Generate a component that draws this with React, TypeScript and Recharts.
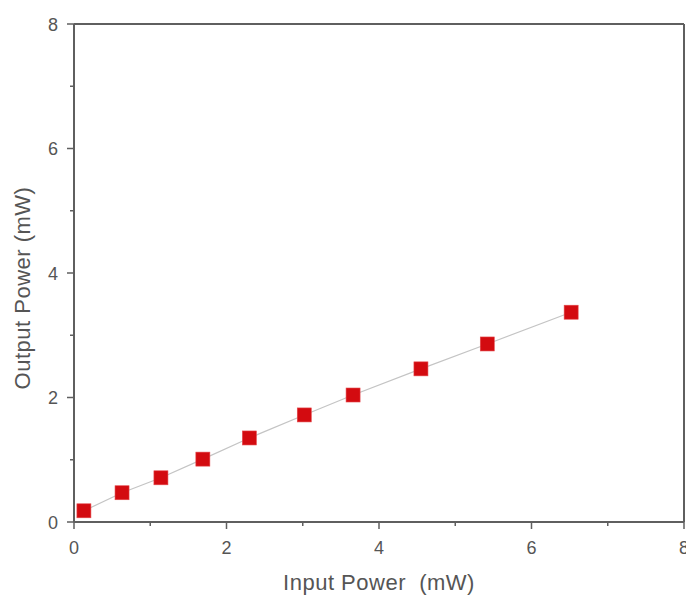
import { ComposedChart, Line, XAxis, YAxis, Label, ReferenceLine } from "recharts";

const inputPower = [0.13, 0.63, 1.14, 1.69, 2.3, 3.02, 3.66, 4.55, 5.42, 6.52];
const outputPower = [0.18, 0.47, 0.71, 1.01, 1.35, 1.72, 2.04, 2.46, 2.86, 3.37];
const axisTicks = [0, 1, 2, 3, 4, 5, 6, 7, 8];
const axisMax = 8;

const data = inputPower.map((x, i) => ({ x, y: outputPower[i] }));

const AXIS = "#5f5f5f";
const TEXT = "#555";
const FONT = "Arial, 'Liberation Sans', sans-serif";

function XTick(props: any) {
  const { x, y, payload } = props;
  const major = payload.value % 2 === 0;
  return (
    <g>
      <line x1={x} y1={y} x2={x} y2={y + (major ? 7 : 4)} stroke={AXIS} strokeWidth={1.5} />
      {major && (
        <text x={x} y={y + 32} textAnchor="middle" fill={TEXT} fontSize={18} fontFamily={FONT}>
          {payload.value}
        </text>
      )}
    </g>
  );
}

function YTick(props: any) {
  const { x, y, payload } = props;
  const major = payload.value % 2 === 0;
  return (
    <g>
      <line x1={x} y1={y} x2={x - (major ? 7 : 4)} y2={y} stroke={AXIS} strokeWidth={1.5} />
      {major && (
        <text x={x - 16} y={y + 6.5} textAnchor="end" fill={TEXT} fontSize={18} fontFamily={FONT}>
          {payload.value}
        </text>
      )}
    </g>
  );
}

function SquareDot(props: any) {
  const { cx, cy } = props;
  if (cx == null || cy == null) return null;
  return <rect x={cx - 7} y={cy - 7} width={14} height={14} fill="#d30b10" stroke="#e4474a" strokeWidth={0.6} />;
}

function XTitle(props: any) {
  const vb = props.viewBox;
  return (
    <text
      x={vb.x + vb.width / 2}
      y={vb.y + vb.height - 5}
      textAnchor="middle"
      fill={TEXT}
      fontSize={22}
      letterSpacing={0.5}
      fontFamily={FONT}
      style={{ whiteSpace: "pre" }}
    >
      {"Input Power\u00a0\u00a0(mW)"}
    </text>
  );
}

function YTitle(props: any) {
  const vb = props.viewBox;
  const cx = 22;
  const cy = vb.y + vb.height / 2 + 15;
  return (
    <text
      x={cx}
      y={cy}
      transform={`rotate(-90 ${cx} ${cy})`}
      textAnchor="middle"
      dominantBaseline="central"
      fill={TEXT}
      fontSize={22}
      letterSpacing={0.5}
      fontFamily={FONT}
    >
      Output Power (mW)
    </text>
  );
}

export default function App() {
  return (
    <div style={{ position: "absolute", left: 0, top: 0, background: "#fff" }}>
      <ComposedChart width={686} height={595} data={data} margin={{ top: 24, right: 2, bottom: 0, left: 0 }}>
        <XAxis
          dataKey="x"
          type="number"
          domain={[0, axisMax]}
          ticks={axisTicks}
          interval={0}
          height={73}
          axisLine={{ stroke: AXIS, strokeWidth: 2 }}
          tickLine={false}
          tickSize={0}
          tickMargin={0}
          tick={<XTick />}
        >
          <Label content={<XTitle />} />
        </XAxis>
        <YAxis
          type="number"
          domain={[0, axisMax]}
          ticks={axisTicks}
          interval={0}
          width={74}
          axisLine={{ stroke: AXIS, strokeWidth: 2 }}
          tickLine={false}
          tickSize={0}
          tickMargin={0}
          tick={<YTick />}
        >
          <Label content={<YTitle />} />
        </YAxis>
        <ReferenceLine y={axisMax} stroke={AXIS} strokeWidth={2} ifOverflow="visible" />
        <ReferenceLine x={axisMax} stroke={AXIS} strokeWidth={2} ifOverflow="visible" />
        <Line
          dataKey="y"
          type="linear"
          stroke="#c4c4c4"
          strokeWidth={1.2}
          dot={<SquareDot />}
          activeDot={false}
          isAnimationActive={false}
        />
      </ComposedChart>
    </div>
  );
}
